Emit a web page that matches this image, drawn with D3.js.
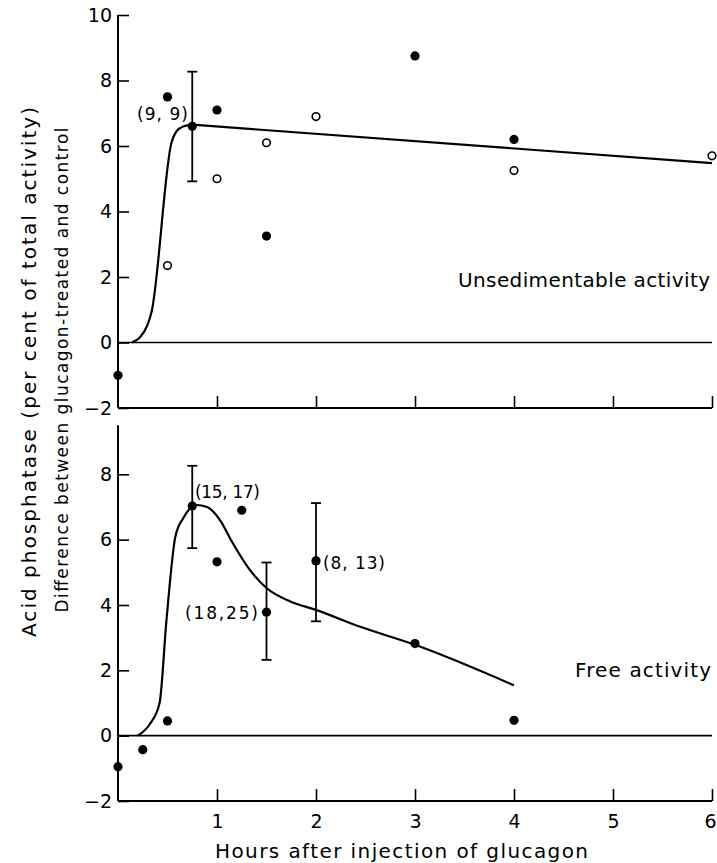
<!DOCTYPE html>
<html>
<head>
<meta charset="utf-8">
<script src="https://cdn.jsdelivr.net/npm/d3@7"></script>
<style>
  body { margin: 0; background: #fff; }
  svg { display: block; font-family: "DejaVu Sans", sans-serif; }
</style>
</head>
<body>
<svg id="chart" width="717" height="863"></svg>
<script>
// ---------- DATA ----------
const xTicks = [1, 2, 3, 4, 5, 6];
const topYTicks = [-2, 0, 2, 4, 6, 8, 10];
const bottomYTicks = [-2, 0, 2, 4, 6, 8];

// Top panel: unsedimentable activity
const topFilledX = [0, 0.5, 0.75, 1, 1.5, 3, 4];
const topFilledY = [-1.0, 7.5, 6.6, 7.1, 3.25, 8.75, 6.2];
const topOpenX = [0.5, 1, 1.5, 2, 4, 6];
const topOpenY = [2.35, 5.0, 6.1, 6.9, 5.25, 5.7];
const topErrX = [0.75];
const topErrLo = [4.92];
const topErrHi = [8.27];
// rising (curved) part and straight tail of the fitted line
const topRiseX = [0.14, 0.22, 0.30, 0.34, 0.54, 0.59, 0.66, 0.75];
const topRiseY = [0, 0.15, 0.55, 0.95, 6.1, 6.45, 6.6, 6.65];
const topTailX = [0.75, 6];
const topTailY = [6.65, 5.48];

// Bottom panel: free activity
const botX = [0, 0.25, 0.5, 0.75, 1, 1.25, 1.5, 2, 3, 4];
const botY = [-0.95, -0.43, 0.45, 7.03, 5.32, 6.9, 3.78, 5.35, 2.82, 0.47];
const botErrX = [0.75, 1.5, 2];
const botErrLo = [5.74, 2.32, 3.5];
const botErrHi = [8.26, 5.3, 7.12];
const botCurveX = [0.2, 0.32, 0.42, 0.49, 0.58, 0.66, 0.79, 0.9, 1.03, 1.16, 1.33, 1.5, 1.74, 2.0, 2.44, 3.0, 4.0];
const botCurveY = [0, 0.35, 1.0, 3.55, 6.1, 6.66, 7.06, 7.0, 6.6, 5.89, 5.08, 4.52, 4.11, 3.85, 3.34, 2.78, 1.54];

// ---------- CHART ----------
const svg = d3.select("#chart");
const x = d3.scaleLinear().domain([0, 6]).range([118, 712]);
const yTop = d3.scaleLinear().domain([-2, 10]).range([408, 15]);
const yBot = d3.scaleLinear().domain([-2, 8]).range([801, 474.3]);

function panel(y, yTicks, yMax, showXLabels) {
  const g = svg.append("g");
  const ya = d3.axisLeft(y).tickValues(yTicks).tickSizeInner(-11).tickSizeOuter(0).tickPadding(6)
    .tickFormat(d => d < 0 ? "\u2212" + Math.abs(d) : d);
  const gy = g.append("g").attr("transform", `translate(${x(0)},0)`).call(ya);
  gy.select(".domain").remove();
  gy.selectAll(".tick line").attr("stroke", "#000").attr("stroke-width", 1.6);
  gy.selectAll(".tick text").attr("font-size", 19).attr("fill", "#000").attr("font-family", "DejaVu Sans");
  const xa = d3.axisBottom(x).tickValues(xTicks).tickSizeInner(-12).tickSizeOuter(0).tickPadding(14)
    .tickFormat(showXLabels ? (d => d) : () => "");
  const gx = g.append("g").attr("transform", `translate(0,${y(-2)})`).call(xa);
  gx.select(".domain").remove();
  gx.selectAll(".tick line").attr("stroke", "#000").attr("stroke-width", 1.6);
  gx.selectAll(".tick text").attr("font-size", 19).attr("fill", "#000").attr("font-family", "DejaVu Sans")
    .filter(d => d === 6).attr("text-anchor", "end").attr("dx", 4);
  g.append("line").attr("x1", x(0)).attr("x2", x(0)).attr("y1", y(-2)).attr("y2", y(yMax))
    .attr("stroke", "#000").attr("stroke-width", 2);
  g.append("line").attr("x1", x(0)).attr("x2", x(6)).attr("y1", y(-2)).attr("y2", y(-2))
    .attr("stroke", "#000").attr("stroke-width", 2);
  g.append("line").attr("x1", x(0)).attr("x2", x(6)).attr("y1", y(0)).attr("y2", y(0))
    .attr("stroke", "#000").attr("stroke-width", 1.6);
  return g;
}

function curve(g, y, xs, ys, c) {
  const pts = xs.map((d, i) => [d, ys[i]]);
  g.append("path").datum(pts)
    .attr("d", d3.line().x(d => x(d[0])).y(d => y(d[1])).curve(c || d3.curveMonotoneX))
    .attr("fill", "none").attr("stroke", "#000").attr("stroke-width", 2.2)
    .attr("stroke-linejoin", "round");
}

function errBars(g, y, xs, lo, hi) {
  xs.forEach((d, i) => {
    g.append("line").attr("x1", x(d)).attr("x2", x(d)).attr("y1", y(lo[i])).attr("y2", y(hi[i]))
      .attr("stroke", "#000").attr("stroke-width", 1.8);
    [lo[i], hi[i]].forEach(v => {
      g.append("line").attr("x1", x(d) - 5).attr("x2", x(d) + 5).attr("y1", y(v)).attr("y2", y(v))
        .attr("stroke", "#000").attr("stroke-width", 1.8);
    });
  });
}

function filled(g, y, xs, ys) {
  g.selectAll(null).data(xs.map((d, i) => [d, ys[i]])).enter().append("circle")
    .attr("cx", d => x(d[0])).attr("cy", d => y(d[1])).attr("r", 4.6).attr("fill", "#000");
}

function open(g, y, xs, ys) {
  g.selectAll(null).data(xs.map((d, i) => [d, ys[i]])).enter().append("circle")
    .attr("cx", d => x(d[0])).attr("cy", d => y(d[1])).attr("r", 3.8)
    .attr("fill", "#fff").attr("stroke", "#000").attr("stroke-width", 1.6);
}

// Top panel
const gt = panel(yTop, topYTicks, 10, false);
curve(gt, yTop, topRiseX, topRiseY);
curve(gt, yTop, topTailX, topTailY, d3.curveLinear);
errBars(gt, yTop, topErrX, topErrLo, topErrHi);
open(gt, yTop, topOpenX, topOpenY);
filled(gt, yTop, topFilledX, topFilledY);

// Bottom panel
const gb = panel(yBot, bottomYTicks, 9.5, true);
curve(gb, yBot, botCurveX, botCurveY);
errBars(gb, yBot, botErrX, botErrLo, botErrHi);
filled(gb, yBot, botX, botY);

// Text labels
function txt(xp, yp, s, size, anchor, len) {
  const t = svg.append("text").attr("x", xp).attr("y", yp).attr("font-size", size)
    .attr("text-anchor", anchor || "start").attr("fill", "#000").text(s);
  if (len) t.attr("textLength", len).attr("lengthAdjust", "spacing");
  return t;
}
txt(458, 287, "Unsedimentable activity", 20, "start", 252);
txt(575, 677, "Free activity", 20, "start", 136);
txt(137, 120, "(9, 9)", 17, "start", 51);
txt(195, 498, "(15, 17)", 17, "start", 65);
txt(185, 619, "(18,25)", 17, "start", 73);
txt(323, 569, "(8, 13)", 17, "start", 62);

// Axis titles
txt(215, 858, "Hours after injection of glucagon", 20, "start", 373);
svg.append("text").attr("transform", "translate(36,372) rotate(-90)")
  .attr("text-anchor", "middle").attr("font-size", 20).attr("fill", "#000")
  .attr("textLength", 530).attr("lengthAdjust", "spacing")
  .text("Acid phosphatase (per cent of total activity)");
svg.append("text").attr("transform", "translate(68,370) rotate(-90)")
  .attr("text-anchor", "middle").attr("font-size", 17).attr("fill", "#000")
  .attr("textLength", 485).attr("lengthAdjust", "spacing")
  .text("Difference between glucagon-treated and control");
</script>
</body>
</html>
